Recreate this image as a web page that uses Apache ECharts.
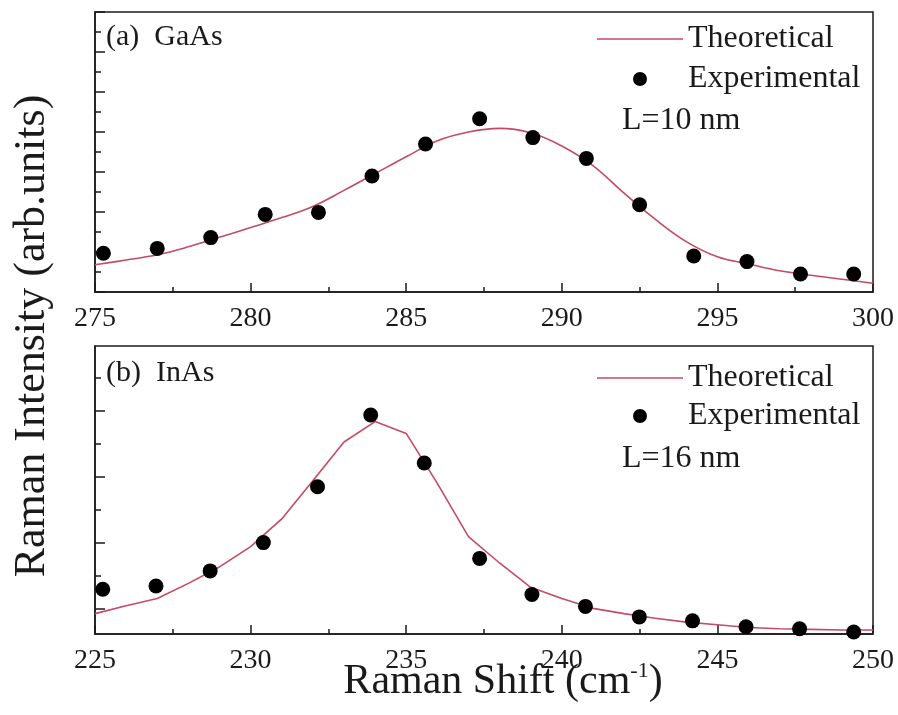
<!DOCTYPE html>
<html>
<head>
<meta charset="utf-8">
<script src="https://cdn.jsdelivr.net/npm/echarts@6/dist/echarts.min.js"></script>
<style>
  html, body { margin: 0; padding: 0; background: #fff; }
  #chart { width: 898px; height: 715px; }
</style>
</head>
<body>
<div id="chart"></div>
<script>
// (a) GaAs, L = 10 nm
const gaasTheoX = [275, 276, 277, 278, 279, 280, 281, 282, 283, 284, 285, 286, 287, 288, 289, 290, 291, 292, 293, 294, 295, 296, 297, 298, 299, 300];
const gaasTheoY = [0.68, 0.80, 0.93, 1.13, 1.37, 1.61, 1.86, 2.14, 2.54, 2.96, 3.38, 3.78, 4.00, 4.09, 3.98, 3.65, 3.16, 2.47, 1.82, 1.26, 0.88, 0.70, 0.53, 0.42, 0.32, 0.22];
const gaasExpX = [275.27, 277.0, 278.72, 280.47, 282.18, 283.9, 285.62, 287.36, 289.07, 290.79, 292.5, 294.24, 295.95, 297.67, 299.38];
const gaasExpY = [0.97, 1.09, 1.36, 1.94, 1.99, 2.90, 3.70, 4.33, 3.86, 3.34, 2.18, 0.90, 0.76, 0.45, 0.45];

// (b) InAs, L = 16 nm
const inasTheoX = [225, 226, 227, 228, 229, 230, 231, 232, 233, 234, 235, 236, 237, 238, 239, 240, 241, 242, 243, 244, 245, 246, 247, 248, 249, 250];
const inasTheoY = [-0.08, 0.04, 0.15, 0.38, 0.63, 0.94, 1.36, 1.94, 2.53, 2.84, 2.66, 1.90, 1.09, 0.69, 0.32, 0.15, 0.00, -0.08, -0.15, -0.21, -0.25, -0.29, -0.31, -0.32, -0.33, -0.33];
const inasExpX = [225.25, 226.96, 228.7, 230.41, 232.15, 233.86, 235.58, 237.36, 239.04, 240.76, 242.49, 244.2, 245.92, 247.64, 249.38];
const inasExpY = [0.29, 0.34, 0.57, 1.00, 1.85, 2.94, 2.21, 0.76, 0.21, 0.03, -0.13, -0.19, -0.28, -0.31, -0.36];

// y tick positions of the InAs panel (offset from the axis line)
const inasMajorTicks = [0, 1, 2, 3];
const inasMinorTicks = [0.5, 1.5, 2.5, 3.5];

const legendNames = ['Theoretical', 'Experimental'];

const serif = '"Liberation Serif", "Times New Roman", serif';
const ink = '#1a1a1a';
const curveColor = '#c44a66';

const zip = (xs, ys) => xs.map((x, i) => [x, ys[i]]);

const xAxisBase = (gridIndex, min, max) => ({
  type: 'value', gridIndex, min, max, interval: 5,
  axisLine: { show: true, onZero: false, lineStyle: { color: ink, width: 1.5 } },
  axisTick: { show: true, inside: true, length: 9, lineStyle: { color: ink, width: 1.5 } },
  minorTick: { show: true, splitNumber: 2, length: 5, lineStyle: { color: ink, width: 1.5 } },
  splitLine: { show: false },
  axisLabel: { fontFamily: serif, fontSize: 28, color: ink, margin: 13 }
});

// thin bar used as the legend glyph of the curve
const lineIcon = 'path://M0,0 L86,0 L86,1.6 L0,1.6 Z';

const legendBase = (top, gap) => ({
  left: 597, top, orient: 'vertical', itemWidth: 86, itemHeight: 14, itemGap: gap,
  padding: 0, selectedMode: false,
  data: [
    { name: legendNames[0], icon: lineIcon },
    { name: legendNames[1], icon: 'circle' }
  ],
  textStyle: { fontFamily: serif, fontSize: 32, color: ink }
});

const chart = echarts.init(document.getElementById('chart'));

chart.setOption({
  backgroundColor: '#fff',
  animation: false,
  grid: [
    { left: 95, top: 12, width: 778, height: 280, show: true, borderColor: ink, borderWidth: 1.5 },
    { left: 95, top: 346, width: 778, height: 288, show: true, borderColor: ink, borderWidth: 1.5 }
  ],
  xAxis: [
    xAxisBase(0, 275, 300),
    xAxisBase(1, 225, 250)
  ],
  yAxis: [
    {
      type: 'value', gridIndex: 0, min: 0, max: 7, interval: 1,
      axisLine: { show: true, lineStyle: { color: ink, width: 1.5 } },
      axisTick: { show: true, inside: true, length: 10, lineStyle: { color: ink, width: 1.5 } },
      minorTick: { show: true, splitNumber: 2, length: 6, lineStyle: { color: ink, width: 1.5 } },
      axisLabel: { show: false },
      splitLine: { show: false }
    },
    {
      type: 'value', gridIndex: 1, min: -0.39, max: 3.99,
      axisLine: { show: true, lineStyle: { color: ink, width: 1.5 } },
      axisTick: { show: true, inside: true, length: 10, customValues: inasMajorTicks, lineStyle: { color: ink, width: 1.5 } },
      axisLabel: { show: false, customValues: inasMajorTicks },
      splitLine: { show: false }
    },
    {
      type: 'value', gridIndex: 1, min: -0.39, max: 3.99, position: 'left',
      axisLine: { show: false },
      axisTick: { show: true, inside: true, length: 6, customValues: inasMinorTicks, lineStyle: { color: ink, width: 1.5 } },
      axisLabel: { show: false, customValues: inasMinorTicks },
      splitLine: { show: false }
    }
  ],
  legend: [
    legendBase(23, 8),
    legendBase(362, 6)
  ],
  series: [
    {
      name: 'Theoretical', type: 'line', xAxisIndex: 0, yAxisIndex: 0,
      data: zip(gaasTheoX, gaasTheoY), smooth: 0.4, symbol: 'none',
      lineStyle: { color: curveColor, width: 1.6 }, itemStyle: { color: curveColor }, z: 2
    },
    {
      name: 'Experimental', type: 'scatter', xAxisIndex: 0, yAxisIndex: 0,
      data: zip(gaasExpX, gaasExpY), symbol: 'circle', symbolSize: 15,
      itemStyle: { color: '#000', opacity: 1 }, z: 3
    },
    {
      name: 'Theoretical', type: 'line', xAxisIndex: 1, yAxisIndex: 1,
      data: zip(inasTheoX, inasTheoY), smooth: false, symbol: 'none',
      lineStyle: { color: curveColor, width: 1.6 }, itemStyle: { color: curveColor }, z: 2
    },
    {
      name: 'Experimental', type: 'scatter', xAxisIndex: 1, yAxisIndex: 1,
      data: zip(inasExpX, inasExpY), symbol: 'circle', symbolSize: 15,
      itemStyle: { color: '#000', opacity: 1 }, z: 3
    }
  ],
  graphic: [
    { type: 'text', left: 106, top: 22, style: { text: '(a)  GaAs', fontFamily: serif, fontSize: 30, fill: ink } },
    { type: 'text', left: 622, top: 105, style: { text: 'L=10 nm', fontFamily: serif, fontSize: 32, fill: ink } },
    { type: 'text', left: 106, top: 358, style: { text: '(b)  InAs', fontFamily: serif, fontSize: 30, fill: ink } },
    { type: 'text', left: 622, top: 443, style: { text: 'L=16 nm', fontFamily: serif, fontSize: 32, fill: ink } },
    {
      type: 'text', x: 32, y: 336, rotation: Math.PI / 2,
      style: { text: 'Raman Intensity (arb.units)', fontFamily: serif, fontSize: 44, fill: ink, align: 'center', verticalAlign: 'middle' }
    },
    {
      type: 'text', x: 503, y: 682,
      style: {
        text: '{a|Raman Shift (cm}{s|-1}{a|)}',
        align: 'center', verticalAlign: 'middle',
        rich: {
          a: { fontFamily: serif, fontSize: 42, fill: ink, lineHeight: 44 },
          s: { fontFamily: serif, fontSize: 22, fill: ink, lineHeight: 44, verticalAlign: 'top', padding: [0, 0, 14, 0] }
        }
      }
    }
  ]
});
</script>
</body>
</html>
